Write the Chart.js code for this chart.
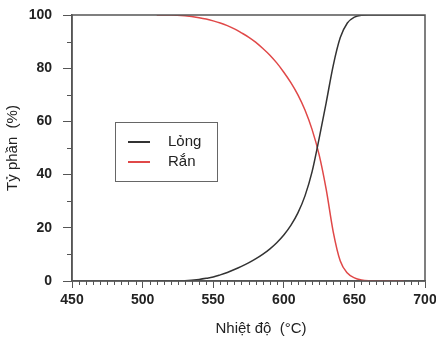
<!DOCTYPE html>
<html>
<head>
<meta charset="utf-8">
<script src="https://cdn.jsdelivr.net/npm/chart.js@4.4.1/dist/chart.umd.min.js"></script>
<style>
  html, body { margin: 0; padding: 0; background: #fff; }
  #wrap { width: 436px; height: 342px; }
</style>
</head>
<body>
<div id="wrap"><canvas id="phaseChart" width="436" height="342"></canvas></div>
<script>
// nhiệt độ (°C) và tỷ phần (%)
const tempLong = [510, 520, 530, 540, 545, 550, 555, 560, 565, 570, 575, 580, 585, 590, 595, 600, 605, 610, 615, 620, 625, 630, 635, 640, 645, 650, 655, 660, 700];
const valLong  = [0, 0, 0.1, 0.6, 1, 1.5, 2.3, 3.2, 4.3, 5.5, 6.8, 8.3, 10, 12, 14.4, 17.3, 20.9, 25.6, 32, 41, 53.5, 67, 81, 91.5, 97, 99.2, 99.9, 100, 100];

const tempRan = [510, 520, 530, 540, 545, 550, 555, 560, 565, 570, 575, 580, 585, 590, 595, 600, 605, 610, 615, 620, 625, 630, 635, 640, 645, 650, 655, 660, 670, 685];
const valRan  = [100, 100, 99.7, 99, 98.5, 97.8, 97, 96, 94.8, 93.3, 91.7, 89.8, 87.5, 85, 82, 78.5, 74.6, 70, 64.3, 57, 47.5, 34.5, 18.5, 7.5, 3, 1.2, 0.4, 0.1, 0, 0];

const xMajor = [450, 500, 550, 600, 650, 700];
const yMajor = [0, 20, 40, 60, 80, 100];

const axisColor = '#555';
const tickFont = { family: 'Liberation Sans, Arial, sans-serif', size: 14, weight: 'bold' };
const titleFont = { family: 'Liberation Sans, Arial, sans-serif', size: 15 };

function toPoints(xs, ys) {
    return xs.map((x, i) => ({ x: x, y: ys[i] }));
}

// khung, vạch phụ và chú thích
const framePlugin = {
    id: 'frame',
    afterDraw(chart) {
        const { ctx, chartArea: a, scales } = chart;
        ctx.save();
        ctx.strokeStyle = axisColor;
        ctx.lineWidth = 1.5;
        ctx.strokeRect(a.left, a.top, a.right - a.left, a.bottom - a.top);

        ctx.lineWidth = 1;
        for (let t = 455; t < 700; t += 5) {
            if (t % 50 === 0) continue;
            const px = Math.round(scales.x.getPixelForValue(t)) + 0.5;
            ctx.beginPath();
            ctx.moveTo(px, a.bottom);
            ctx.lineTo(px, a.bottom + 4);
            ctx.stroke();
        }
        for (let v = 10; v < 100; v += 20) {
            const py = Math.round(scales.y.getPixelForValue(v)) + 0.5;
            ctx.beginPath();
            ctx.moveTo(a.left - 5, py);
            ctx.lineTo(a.left, py);
            ctx.stroke();
        }

        // chú thích
        ctx.lineWidth = 1;
        ctx.strokeStyle = '#666';
        ctx.strokeRect(115.5, 122.5, 102, 59);
        ctx.font = '15px Liberation Sans, Arial, sans-serif';
        ctx.textBaseline = 'middle';
        const items = [['Lỏng', '#333'], ['Rắn', '#e04848']];
        items.forEach((it, i) => {
            const y = 142 + i * 20;
            ctx.strokeStyle = it[1];
            ctx.lineWidth = 2;
            ctx.beginPath();
            ctx.moveTo(128, y);
            ctx.lineTo(150, y);
            ctx.stroke();
            ctx.fillStyle = '#222';
            ctx.fillText(it[0], 168, y);
        });
        ctx.restore();
    }
};

function fixBox(width, height) {
    return function (scale) {
        if (width !== null) scale.width = width;
        if (height !== null) scale.height = height;
        scale.paddingLeft = 0;
        scale.paddingRight = 0;
        scale.paddingTop = 0;
        scale.paddingBottom = 0;
    };
}

new Chart(document.getElementById('phaseChart'), {
    type: 'line',
    data: {
        datasets: [
            {
                label: 'Lỏng',
                data: toPoints(tempLong, valLong),
                borderColor: '#333',
                borderWidth: 1.5,
                pointRadius: 0,
                cubicInterpolationMode: 'monotone',
                fill: false
            },
            {
                label: 'Rắn',
                data: toPoints(tempRan, valRan),
                borderColor: '#e04848',
                borderWidth: 1.5,
                pointRadius: 0,
                cubicInterpolationMode: 'monotone',
                fill: false
            }
        ]
    },
    plugins: [framePlugin],
    options: {
        responsive: false,
        animation: false,
        devicePixelRatio: 1,
        layout: { padding: { top: 15, right: 11, left: 0, bottom: 0 } },
        plugins: { legend: { display: false }, tooltip: { enabled: false } },
        scales: {
            x: {
                type: 'linear',
                min: 450,
                max: 700,
                afterBuildTicks: (s) => { s.ticks = xMajor.map(v => ({ value: v })); },
                afterFit: fixBox(null, 61),
                grid: { drawOnChartArea: false, tickLength: 7, color: axisColor, lineWidth: 1 },
                border: { color: axisColor, width: 1.5 },
                ticks: { font: tickFont, color: '#222', padding: 4, maxRotation: 0 },
                title: { display: true, text: '      Nhiệt độ  (°C)', font: titleFont, color: '#222', padding: { top: 6 } }
            },
            y: {
                min: 0,
                max: 100,
                afterBuildTicks: (s) => { s.ticks = yMajor.map(v => ({ value: v })); },
                afterFit: fixBox(72, null),
                grid: { drawOnChartArea: false, tickLength: 9, color: axisColor, lineWidth: 1 },
                border: { color: axisColor, width: 1.5 },
                ticks: { font: tickFont, color: '#222', padding: 11 },
                title: { display: true, text: 'Tỷ phần  (%)', font: titleFont, color: '#222', padding: { bottom: 4 } }
            }
        }
    }
});
</script>
</body>
</html>
